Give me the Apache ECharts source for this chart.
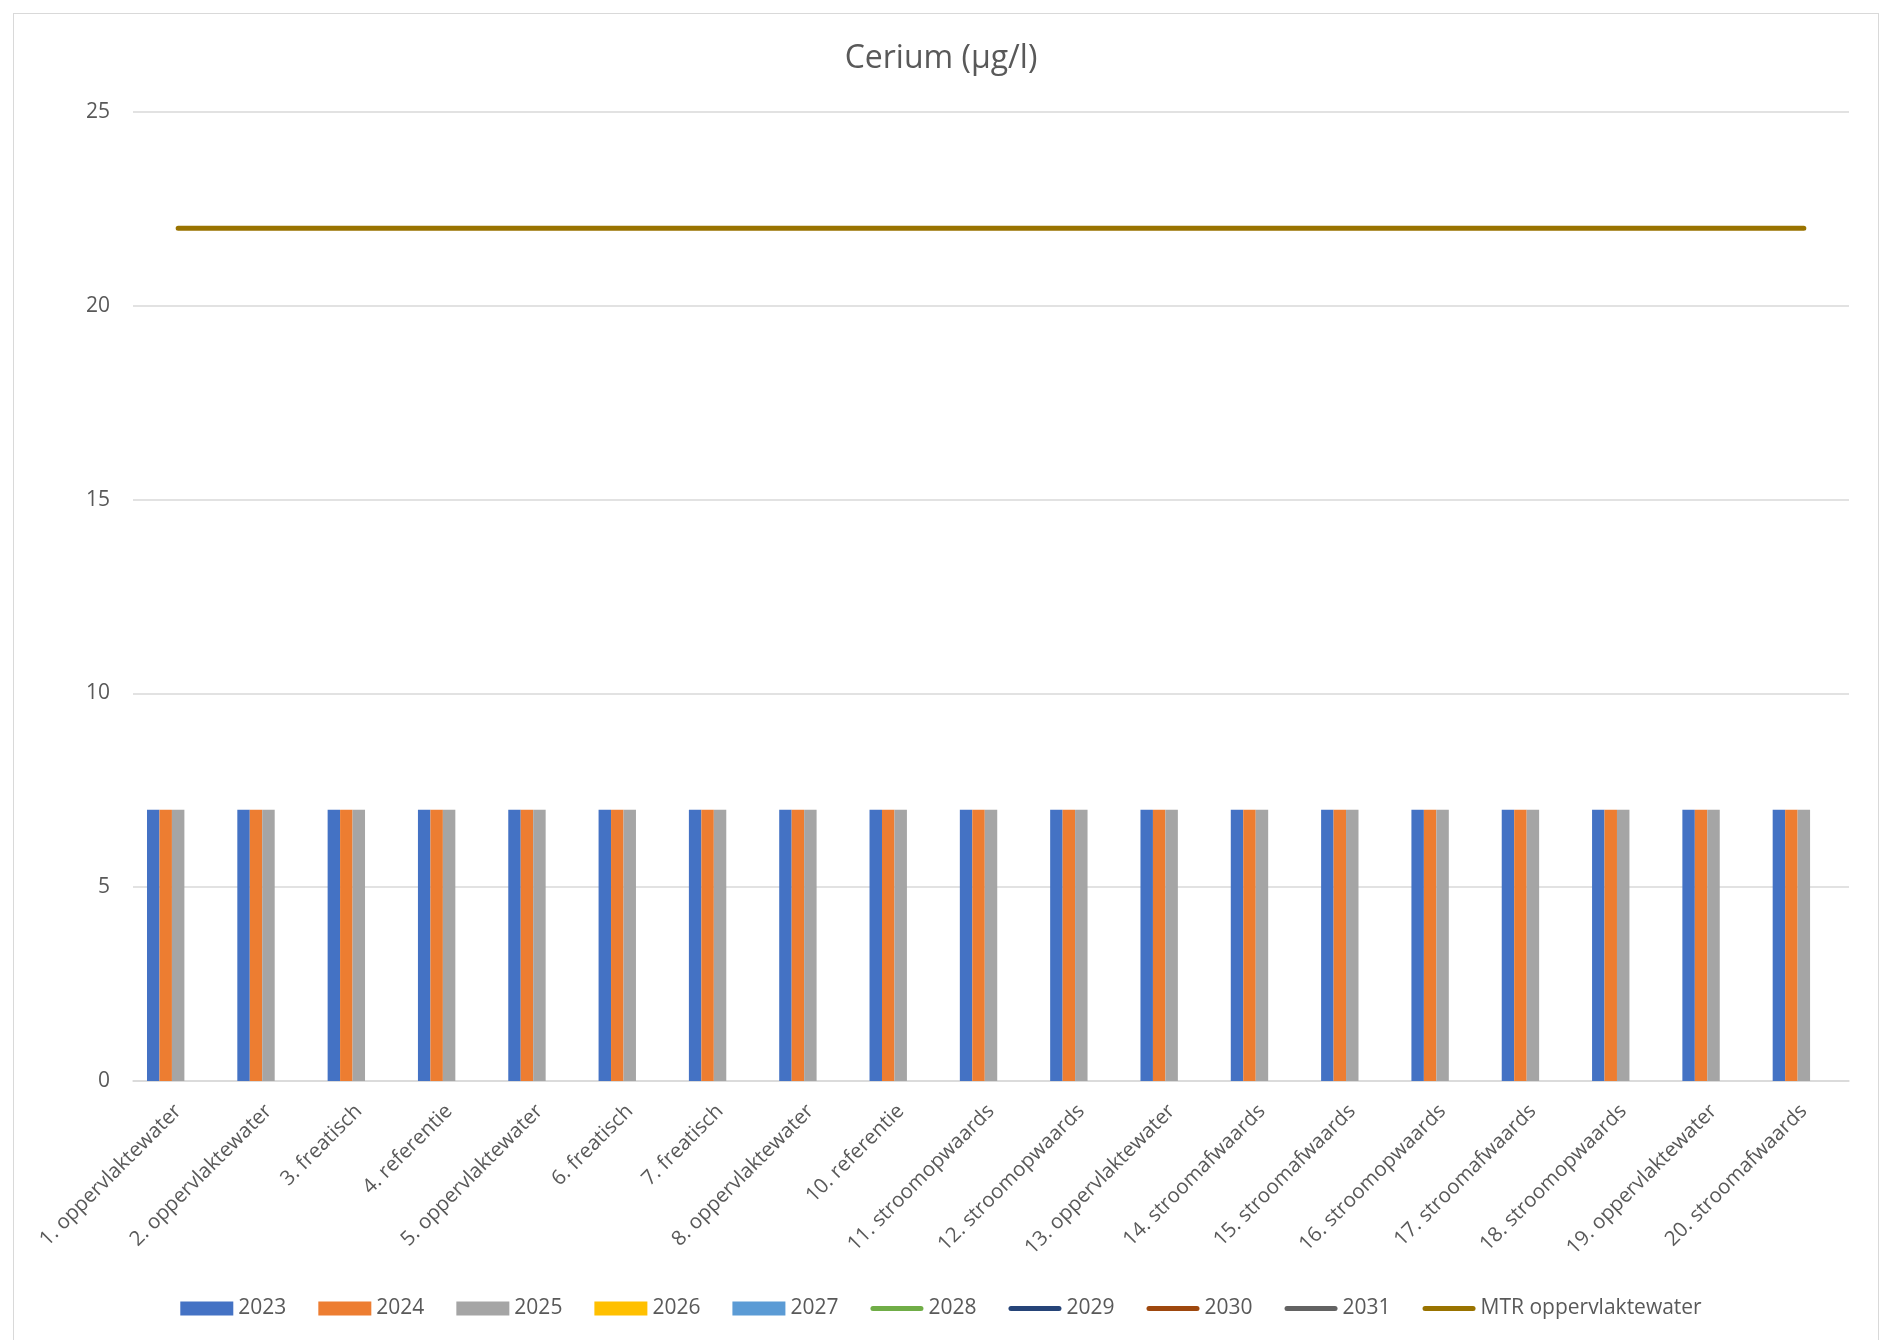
<!DOCTYPE html>
<html>
<head>
<meta charset="utf-8">
<script src="https://cdn.jsdelivr.net/npm/echarts@6/dist/echarts.min.js"></script>
<style>
html,body{margin:0;padding:0;background:#fff;}
#frame{position:absolute;left:13px;top:13px;width:1866px;height:1340px;border:1.5px solid #d9d9d9;box-sizing:border-box;}
#chart{position:absolute;left:0;top:0;width:1882px;height:1340px;}
</style>
</head>
<body>
<div id="frame"></div>
<div id="chart"></div>
<script>
const categories = ["1. oppervlaktewater","2. oppervlaktewater","3. freatisch","4. referentie","5. oppervlaktewater","6. freatisch","7. freatisch","8. oppervlaktewater","10. referentie","11. stroomopwaards","12. stroomopwaards","13. oppervlaktewater","14. stroomafwaards","15. stroomafwaards","16. stroomopwaards","17. stroomafwaards","18. stroomopwaards","19. oppervlaktewater","20. stroomafwaards"];
const v2023 = [7,7,7,7,7,7,7,7,7,7,7,7,7,7,7,7,7,7,7];
const v2024 = [7,7,7,7,7,7,7,7,7,7,7,7,7,7,7,7,7,7,7];
const v2025 = [7,7,7,7,7,7,7,7,7,7,7,7,7,7,7,7,7,7,7];
const v2026 = [];
const v2027 = [];
const v2028 = [];
const v2029 = [];
const v2030 = [];
const v2031 = [];
const mtr = [22,22,22,22,22,22,22,22,22,22,22,22,22,22,22,22,22,22,22];
const yTicks = {min:0, max:25, interval:5};

const FONT = '"Open Sans", "Liberation Sans", sans-serif';
const TXT = '#595959';
const LINE_ICON = 'path://M2.5,0 L50.5,0 A2.5,2.5 0 0 1 50.5,5 L2.5,5 A2.5,2.5 0 0 1 2.5,0 Z';
const chart = echarts.init(document.getElementById('chart'), null, {renderer:'canvas'});
function bar(name, data, color){
  return {name, type:'bar', data, barGap:'0%', barCategoryGap:'31%', itemStyle:{color}};
}
function line(name, data, color){
  return {name, type:'line', data, symbol:'none', lineStyle:{color, width:5, cap:'round'}, itemStyle:{color}};
}
chart.setOption({
  animation:false,
  title:{text:'Cerium (µg/l)', left:'center', top:38, textStyle:{fontFamily:FONT, fontSize:32, fontWeight:'normal', color:TXT}},
  grid:{left:133, right:33, top:112, bottom:259, containLabel:false},
  legend:{
    bottom:16, left:'center', itemWidth:53, itemHeight:14, itemGap:32, symbolKeepAspect:true,
    textStyle:{fontFamily:FONT, fontSize:21, color:TXT},
    data:[
      {name:'2023', icon:'rect'},{name:'2024', icon:'rect'},{name:'2025', icon:'rect'},{name:'2026', icon:'rect'},{name:'2027', icon:'rect'},
      {name:'2028', icon:LINE_ICON},{name:'2029', icon:LINE_ICON},{name:'2030', icon:LINE_ICON},{name:'2031', icon:LINE_ICON},{name:'MTR oppervlaktewater', icon:LINE_ICON}
    ]
  },
  xAxis:{
    type:'category', data:categories, boundaryGap:true,
    axisLine:{lineStyle:{color:'#d9d9d9', width:1.5}},
    axisTick:{show:false},
    axisLabel:{rotate:45, interval:0, margin:27, fontFamily:FONT, fontSize:20.5, color:TXT}
  },
  yAxis:{
    type:'value', min:yTicks.min, max:yTicks.max, interval:yTicks.interval,
    axisLine:{show:false}, axisTick:{show:false},
    splitLine:{lineStyle:{color:'#d9d9d9', width:1.5}},
    axisLabel:{margin:23, fontFamily:FONT, fontSize:21, color:TXT}
  },
  series:[
    bar('2023', v2023, '#4472C4'),
    bar('2024', v2024, '#ED7D31'),
    bar('2025', v2025, '#A5A5A5'),
    bar('2026', v2026, '#FFC000'),
    bar('2027', v2027, '#5B9BD5'),
    line('2028', v2028, '#70AD47'),
    line('2029', v2029, '#264478'),
    line('2030', v2030, '#9E480E'),
    line('2031', v2031, '#636363'),
    line('MTR oppervlaktewater', mtr, '#997300')
  ]
});
</script>
</body>
</html>
